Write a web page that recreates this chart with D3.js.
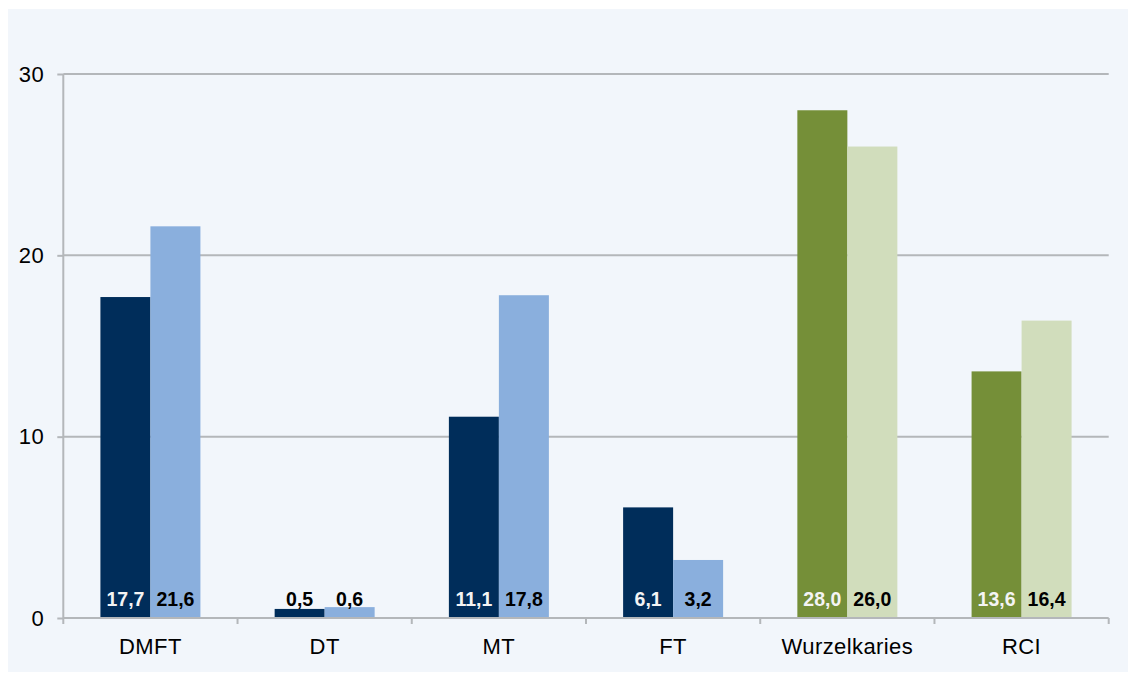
<!DOCTYPE html>
<html>
<head>
<meta charset="utf-8">
<script src="https://cdn.jsdelivr.net/npm/d3@7"></script>
<style>
  html, body { margin: 0; padding: 0; background: #ffffff; }
  svg { display: block; }
  text { font-family: "Liberation Sans", Arial, sans-serif; }
</style>
</head>
<body>
<svg id="chart" width="1128" height="673"></svg>
<script>
const categories = ["DMFT", "DT", "MT", "FT", "Wurzelkaries", "RCI"];
const series1 = [17.7, 0.5, 11.1, 6.1, 28.0, 13.6];
const series2 = [21.6, 0.6, 17.8, 3.2, 26.0, 16.4];
const yTicks = [0, 10, 20, 30];
const darkColors = ["#002d5a", "#002d5a", "#002d5a", "#002d5a", "#758f38", "#758f38"];
const lightColors = ["#8aafdd", "#8aafdd", "#8aafdd", "#8aafdd", "#d1ddbc", "#d1ddbc"];

const svg = d3.select("#chart");
const W = 1128, H = 673;
const mLeft = 63.3, mRight = 1108.7, mTop = 74, mBottom = 618;

svg.append("rect").attr("x", 8).attr("y", 9).attr("width", W - 8).attr("height", 663)
  .attr("fill", "#f2f6fb");

const x = d3.scaleBand().domain(categories).range([mLeft, mRight]).paddingInner(0).paddingOuter(0);
const y = d3.scaleLinear().domain([0, 30]).range([mBottom, mTop]);
const groupW = 100;
const barW = groupW / 2;

// gridlines
svg.append("g").selectAll("line").data(yTicks.filter(d => d > 0)).join("line")
  .attr("x1", mLeft).attr("x2", mRight)
  .attr("y1", d => y(d)).attr("y2", d => y(d))
  .attr("stroke", "#b4b7ba").attr("stroke-width", 2);

// y axis
const yAxis = d3.axisLeft(y).tickValues(yTicks).tickSize(6).tickPadding(13).tickFormat(d3.format("d"));
const gy = svg.append("g").attr("transform", `translate(${mLeft},0)`).call(yAxis);
gy.select(".domain").attr("stroke", "#b4b7ba").attr("stroke-width", 2).attr("d", `M0,${mBottom}V${mTop}`);
gy.selectAll(".tick line").attr("stroke", "#b4b7ba").attr("stroke-width", 2);
gy.selectAll(".tick text").attr("font-size", 22).attr("fill", "#000")
  .attr("font-family", "'Liberation Sans', Arial, sans-serif").attr("letter-spacing", 0.6);

// bars
const data = categories.map((c, i) => ({ c, i, v1: series1[i], v2: series2[i] }));
const g = svg.append("g");
const fmt = v => v.toFixed(1).replace(".", ",");
data.forEach(d => {
  const x0 = x(d.c) + (x.bandwidth() - groupW) / 2;
  g.append("rect").attr("x", x0).attr("y", y(d.v1)).attr("width", barW)
    .attr("height", y(0) - y(d.v1)).attr("fill", darkColors[d.i]);
  g.append("rect").attr("x", x0 + barW).attr("y", y(d.v2)).attr("width", barW)
    .attr("height", y(0) - y(d.v2)).attr("fill", lightColors[d.i]);
  const small = d.v1 < 2;
  g.append("text").attr("x", x0 + barW / 2).attr("y", mBottom - 12)
    .attr("text-anchor", "middle").attr("font-size", 19.5).attr("font-weight", "bold")
    .attr("fill", small ? "#000" : "#f4f4f4").text(fmt(d.v1));
  g.append("text").attr("x", x0 + barW * 1.5).attr("y", mBottom - 12)
    .attr("text-anchor", "middle").attr("font-size", 19.5).attr("font-weight", "bold")
    .attr("fill", "#000").text(fmt(d.v2));
});

// x axis
const xAxis = d3.axisBottom(x).tickSize(0).tickPadding(0);
const gx = svg.append("g").attr("transform", `translate(0,${mBottom})`).call(xAxis);
gx.select(".domain").attr("stroke", "#b4b7ba").attr("stroke-width", 2).attr("d", `M${mLeft},0H${mRight}`);
gx.selectAll(".tick text").attr("font-size", 22).attr("fill", "#000").attr("dy", 0).attr("y", 36)
  .attr("letter-spacing", 0.4)
  .attr("font-family", "'Liberation Sans', Arial, sans-serif");
// boundary ticks between categories
const bounds = categories.map(c => x(c)).concat([mRight]);
svg.append("g").selectAll("line").data(bounds).join("line")
  .attr("x1", d => d).attr("x2", d => d).attr("y1", mBottom).attr("y2", mBottom + 6)
  .attr("stroke", "#b4b7ba").attr("stroke-width", 2);
</script>
</body>
</html>
